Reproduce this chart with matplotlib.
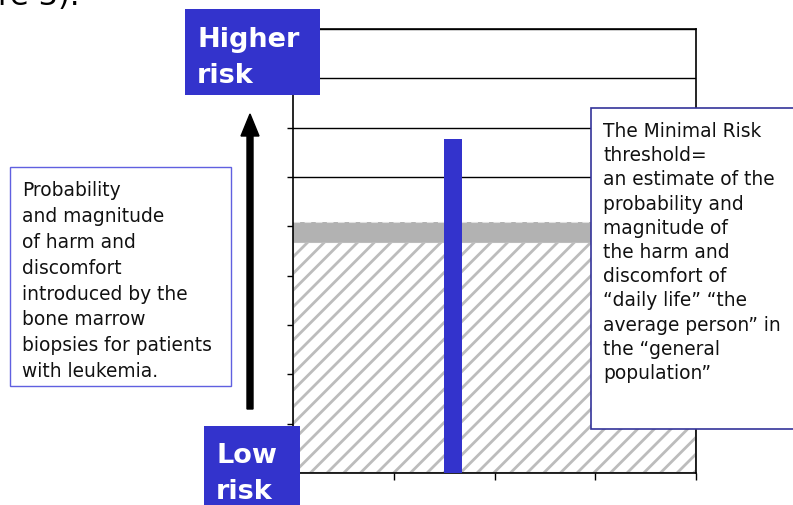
import matplotlib
matplotlib.use('Agg')
import matplotlib.pyplot as plt
import matplotlib.patches as mpatches
from matplotlib.transforms import IdentityTransform

W, H = 793, 506

# data
x_edges = [0, 1, 2, 3, 4]
baseline_hatched = [4.68, 4.68, 4.68, 4.68, 4.68]
baseline_top = [5.09, 5.09, 5.09, 5.09, 5.09]
biopsy_pos = [1.59]
biopsy_risk = [6.78]
y_levels = [1, 2, 3, 4, 5, 6, 7, 8, 9]

left_lines = ['Probability', 'and magnitude', 'of harm and', 'discomfort',
              'introduced by the', 'bone marrow', 'biopsies for patients', 'with leukemia.']
right_lines = ['The Minimal Risk', 'threshold=', 'an estimate of the', 'probability and',
               'magnitude of', 'the harm and', 'discomfort of', '\u201cdaily life\u201d \u201cthe',
               'average person\u201d in', 'the \u201cgeneral', 'population\u201d']

BLUE = '#3333CC'

plt.rcParams['hatch.linewidth'] = 2.0
fig = plt.figure(figsize=(W / 100, H / 100), dpi=100)


def fx(px):
    return px / W


def fy(py):
    # image pixel (from top) -> figure fraction
    return 1 - py / H


def put_lines(lines, x, y0, step, **kw):
    # one text per line, baseline at y0 + i*step (pixels from top)
    for i, s in enumerate(lines):
        fig.text(fx(x), fy(y0 + i * step), s, ha='left', va='baseline', zorder=6, **kw)


ax = fig.add_axes([fx(293), fy(474), fx(696) - fx(293), fy(30) - fy(474)])
ax.set_xlim(0, 4)
ax.set_ylim(0, 9)
ax.set_axisbelow(True)
for y in y_levels:
    ax.axhline(y, color='black', lw=1.0, zorder=0)

ax.fill_between(x_edges, 0, baseline_hatched, facecolor='white', edgecolor='#bcbcbc',
                hatch='//', lw=1.5, zorder=1)
ax.fill_between(x_edges, baseline_hatched, baseline_top, facecolor='#b2b2b2',
                edgecolor='none', zorder=1)
ax.plot(x_edges, baseline_top, color='#e0e0e0', lw=0.8, ls=(0, (6, 4)), zorder=2)
ax.bar(biopsy_pos, biopsy_risk, width=0.18, color=BLUE, zorder=3)

ax.set_xticks(x_edges)
ax.set_yticks(y_levels)
ax.set_xticklabels([])
ax.set_yticklabels([])
ax.tick_params(axis='x', direction='out', length=5, width=1)
ax.tick_params(axis='y', direction='out', length=4, width=1)
for s in ax.spines.values():
    s.set_color('black')
    s.set_linewidth(1.2)

# cut-off caption from the page above
fig.text(fx(-2), fy(5), 're 3).', fontsize=22, color='black', ha='left', va='baseline')

# risk labels
fig.add_artist(mpatches.Rectangle((fx(185), fy(96)), fx(320) - fx(185), fy(10) - fy(96),
                                  transform=fig.transFigure, facecolor=BLUE, edgecolor='none', zorder=5))
put_lines(['Higher', 'risk'], 197, 47, 36, fontsize=19.5, fontweight='bold', color='white')
fig.add_artist(mpatches.Rectangle((fx(204), fy(510)), fx(300) - fx(204), fy(427) - fy(510),
                                  transform=fig.transFigure, facecolor=BLUE, edgecolor='none', zorder=5))
put_lines(['Low', 'risk'], 216, 463, 36, fontsize=19.5, fontweight='bold', color='white')

# arrow
fig.add_artist(mpatches.FancyArrow(250, H - 410, 0, 295, width=6, head_width=18, head_length=22,
                                   length_includes_head=True, color='black',
                                   transform=IdentityTransform(), zorder=5))

# text boxes
fig.add_artist(mpatches.Rectangle((fx(10), fy(387)), fx(231) - fx(10), fy(168) - fy(387),
                                  transform=fig.transFigure, facecolor='white', edgecolor='#6060e0',
                                  lw=1.0, zorder=5))
put_lines(left_lines, 22, 196, 25.9, fontsize=13.4, color='#111111')

fig.add_artist(mpatches.Rectangle((fx(591), fy(430)), fx(800) - fx(591), fy(109) - fy(430),
                                  transform=fig.transFigure, facecolor='white', edgecolor='#333399',
                                  lw=1.2, zorder=5))
put_lines(right_lines, 603, 137, 24.2, fontsize=13.4, color='#111111')

fig.savefig('out.png', dpi=100)
